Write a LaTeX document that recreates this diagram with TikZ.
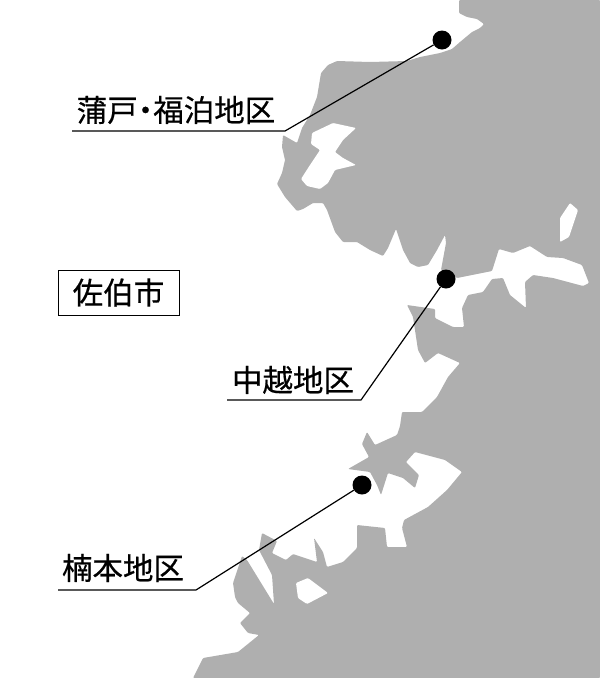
\documentclass[tikz,border=0pt]{standalone}
\usepackage{fontspec}
\setmainfont{Noto Sans CJK JP}[RawFeature={embolden=0.5}]
\usetikzlibrary{positioning, calc}
\definecolor{landgray}{HTML}{AFAFAF}

\begin{document}
\begin{tikzpicture}[
  x=1pt, y=-1pt,
  land/.style = {fill=landgray, draw=none, rounded corners=1pt},
  water/.style = {fill=white, draw=none, rounded corners=1pt},
  place/.style = {circle, fill=black, inner sep=0pt, minimum size=19pt},
  label/.style = {font=\fontsize{30.5}{30.5}\selectfont, inner sep=0pt},
  citybox/.style = {draw, line width=0.9pt, minimum width=121pt, minimum height=45pt, inner sep=0pt, font=\fontsize{30.5}{30.5}\selectfont},
  leader/.style = {line width=1.2pt}
]
\useasboundingbox (0,0) rectangle (600,678);

% ======================================================
% Land
% ======================================================
\fill[land] (459,0) -- (459,13) -- (467,17) -- (477,19) -- (484,24) -- (480,28) -- (472,32)
  -- (460,42) -- (452,49) -- (440,53) -- (420,57) -- (407,61) -- (370,62) -- (337,61)
  -- (328,65) -- (321,73) -- (317,97) -- (310,115) -- (302,128) -- (297,143) -- (283,135)
  -- (282,147) -- (285,160) -- (282,173) -- (277,184) -- (285,197) -- (297,211) -- (303,209)
  -- (313,203) -- (323,203) -- (327,210) -- (335,232) -- (343,242) -- (357,242) -- (370,250)
  -- (383,256) -- (388,248) -- (396,229) -- (403,250) -- (410,263) -- (418,267) -- (428,265)
  -- (437,250) -- (445,235) -- (446,243) -- (441,270) -- (457,278) -- (492,271) -- (499,249)
  -- (513,253) -- (530,246) -- (547,257) -- (563,258) -- (582,265) -- (589,283) -- (583,286)
  -- (553,278) -- (533,275) -- (525,282) -- (526,308) -- (510,295) -- (503,278) -- (492,279)
  -- (483,292) -- (468,295) -- (462,308) -- (464,327) -- (453,327) -- (435,318) -- (435,309)
  -- (407,305) -- (413,317) -- (418,350) -- (425,363) -- (438,353) -- (460,363) -- (448,377)
  -- (437,397) -- (422,412) -- (402,412) -- (400,426) -- (397,435) -- (375,445) -- (367,432) -- (362,444)
  -- (369,457) -- (348,469) -- (370,472) -- (377,485) -- (381,495) -- (388,473) -- (403,478)
  -- (415,488) -- (419,475) -- (406,462) -- (415,452) -- (445,460) -- (462,472) -- (447,490)
  -- (428,507) -- (404,520) -- (402,528) -- (407,547) -- (387,547) -- (385,528) -- (357,525)
  -- (357,548) -- (343,562) -- (327,567) -- (323,552) -- (314,538) -- (317,562) -- (293,554)
  -- (286,560) -- (272,553) -- (277,541) -- (262,533) -- (259,550) -- (272,575) -- (274,604)
  -- (247,560) -- (242,556) -- (233,583) -- (235,597) -- (238,603) -- (250,613) -- (240,623)
  -- (248,633) -- (259,635) -- (238,652) -- (203,658) -- (193,678) -- (600,678) -- (600,0) -- cycle;

% Inland water
\fill[water] (312,133) -- (333,123) -- (356,128) -- (343,140) -- (335,152) -- (343,158)
  -- (356,165) -- (335,170) -- (328,183) -- (320,189) -- (307,186) -- (301,179) -- (310,165)
  -- (320,150) -- (311,144) -- cycle;
\fill[water] (570,203) -- (578,210) -- (569,237) -- (560,242) -- (560,218) -- cycle;
\fill[water] (296,583) -- (308,578) -- (328,593) -- (307,604) -- (298,598) -- cycle;

% ======================================================
% Labels
% ======================================================
\node[citybox] (saiki) at (118.5,292.5) {佐伯市};
\node[label] (kamado) at (176,110) {蒲戸\kern-7.5pt・\kern-7.5pt福泊地区};
\node[label] (nakagoe) at (293,380) {中越地区};
\node[label] (kusumoto) at (123,568) {楠本地区};

% ======================================================
% Places and leaders
% ======================================================
\node[place] (kamado_dot) at (442,40) {};
\node[place] (nakagoe_dot) at (446,279) {};
\node[place] (kusumoto_dot) at (362,485) {};

\coordinate (kamado_start) at (72,131);
\coordinate (kamado_bend) at (285,131);
\draw[leader] (kamado_start) -- (kamado_bend) -- (kamado_dot);

\coordinate (nakagoe_start) at (227,400);
\coordinate (nakagoe_bend) at (361,400);
\draw[leader] (nakagoe_start) -- (nakagoe_bend) -- (nakagoe_dot);

\coordinate (kusumoto_start) at (58,590);
\coordinate (kusumoto_bend) at (196,590);
\draw[leader] (kusumoto_start) -- (kusumoto_bend) -- (kusumoto_dot);
\end{tikzpicture}
\end{document}
